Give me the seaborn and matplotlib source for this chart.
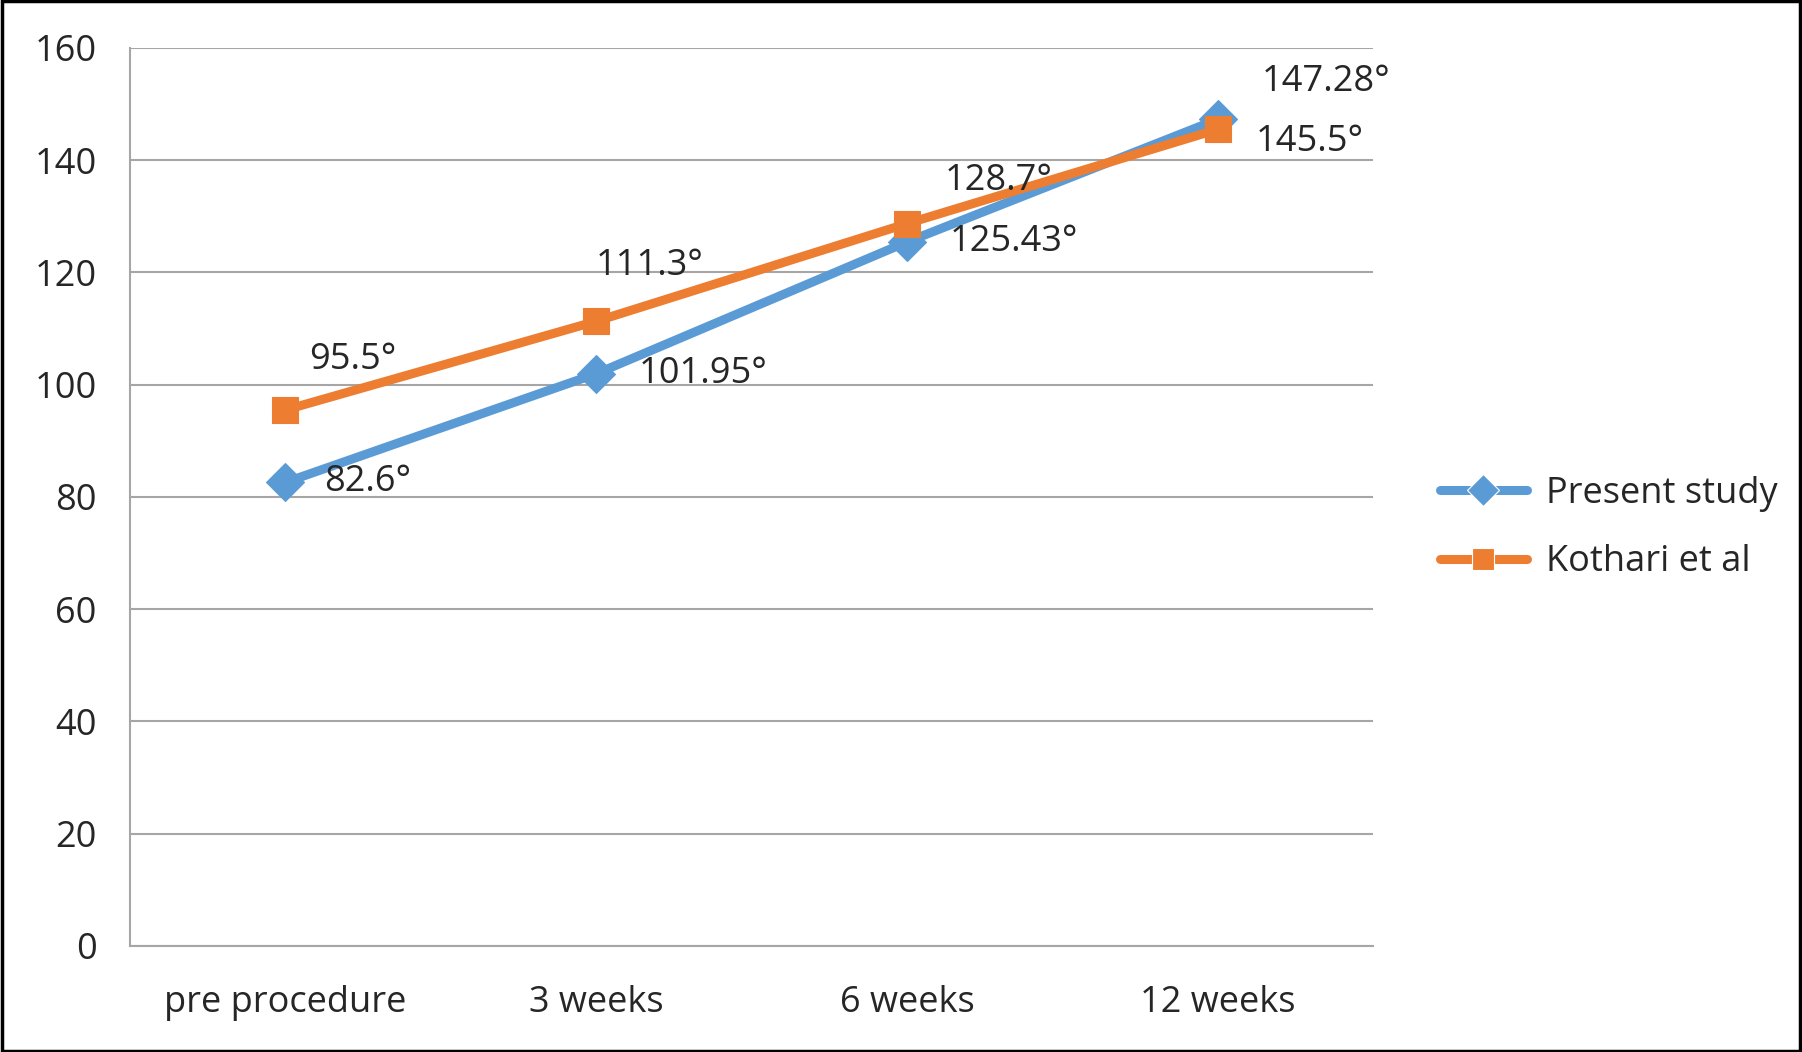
import pandas as pd
import matplotlib.pyplot as plt
import matplotlib.patches as mpatches
import seaborn as sns

# dados
timepoints = ['pre procedure', '3 weeks', '6 weeks', '12 weeks']
present_study = [82.6, 101.95, 125.43, 147.28]
kothari = [95.5, 111.3, 128.7, 145.5]
series_names = ['Present study', 'Kothari et al']
present_labels = ['82.6°', '101.95°', '125.43°', '147.28°']
kothari_labels = ['95.5°', '111.3°', '128.7°', '145.5°']

blue = '#5B9BD5'
orange = '#ED7D31'

df = pd.DataFrame({
    'time': timepoints * 2,
    'value': present_study + kothari,
    'series': [series_names[0]] * 4 + [series_names[1]] * 4,
})

sns.set_style("white")
plt.rcParams['font.family'] = ['Open Sans', 'DejaVu Sans']

fs = 26

fig = plt.figure(figsize=(18.02, 10.52), dpi=100)
ax = fig.add_axes([0.0721, 0.1008, 0.6899, 0.8536])

sns.lineplot(data=df, x='time', y='value', hue='series', style='series',
             markers={series_names[0]: 'D', series_names[1]: 's'}, dashes=False,
             palette={series_names[0]: blue, series_names[1]: orange},
             linewidth=6.5, markersize=19, markeredgewidth=0.8, ax=ax, sort=False)
for ln, c in zip(ax.lines[:2], [blue, orange]):
    ln.set_markeredgecolor(c)
    ln.set_solid_capstyle('round')

ax.set_xlim(-0.5, 3.5)
ax.set_ylim(0, 160)
ax.set_yticks(range(0, 161, 20))
ax.yaxis.grid(True, color='#A6A6A6', linewidth=1.5)
ax.set_axisbelow(True)
for s in ['top', 'right']:
    ax.spines[s].set_visible(False)
for s in ['left', 'bottom']:
    ax.spines[s].set_color('#A6A6A6')
    ax.spines[s].set_linewidth(1.5)
ax.set_xticks(range(4))
ax.set_xticklabels(timepoints)
ax.set_xticks([-0.5, 0.5, 1.5, 2.5, 3.5], minor=True)
ax.tick_params(axis='x', which='major', length=0, pad=28, labelsize=fs)
ax.tick_params(axis='x', which='minor', length=10, width=1.5, color='#A6A6A6', direction='out')
ax.tick_params(axis='y', length=10, width=1.5, color='#A6A6A6', direction='out', labelsize=fs, pad=14)
ax.set_xlabel('')
ax.set_ylabel('')

# rótulos dos pontos (deslocamentos em pixels)
p_off = [(39, 0, 'left'), (43, 0, 'left'), (43, 0, 'left'), (44, 37, 'left')]
k_off = [(24, 50, 'left'), (0, 55, 'left'), (38, 43, 'left'), (38, -13, 'left')]
for i in range(4):
    dx, dy, ha = p_off[i]
    ax.annotate(present_labels[i], (i, present_study[i]), xytext=(dx, dy),
                textcoords='offset pixels', ha=ha, va='center', fontsize=fs)
    dx, dy, ha = k_off[i]
    ax.annotate(kothari_labels[i], (i, kothari[i]), xytext=(dx, dy),
                textcoords='offset pixels', ha=ha, va='center', fontsize=fs)

leg = ax.legend(loc='center left', bbox_to_anchor=(0.781, 0.498), bbox_transform=fig.transFigure,
                frameon=False, fontsize=fs, handlelength=2.4, labelspacing=0.9, handletextpad=0.55)
for h in leg.legend_handles:
    h.set_markersize(16)

fig.patches.append(mpatches.Rectangle((0.001, 0.001), 0.998, 0.998, transform=fig.transFigure,
                                      fill=False, edgecolor='black', linewidth=2.5))

plt.savefig('out.png', dpi=100)
plt.close()
